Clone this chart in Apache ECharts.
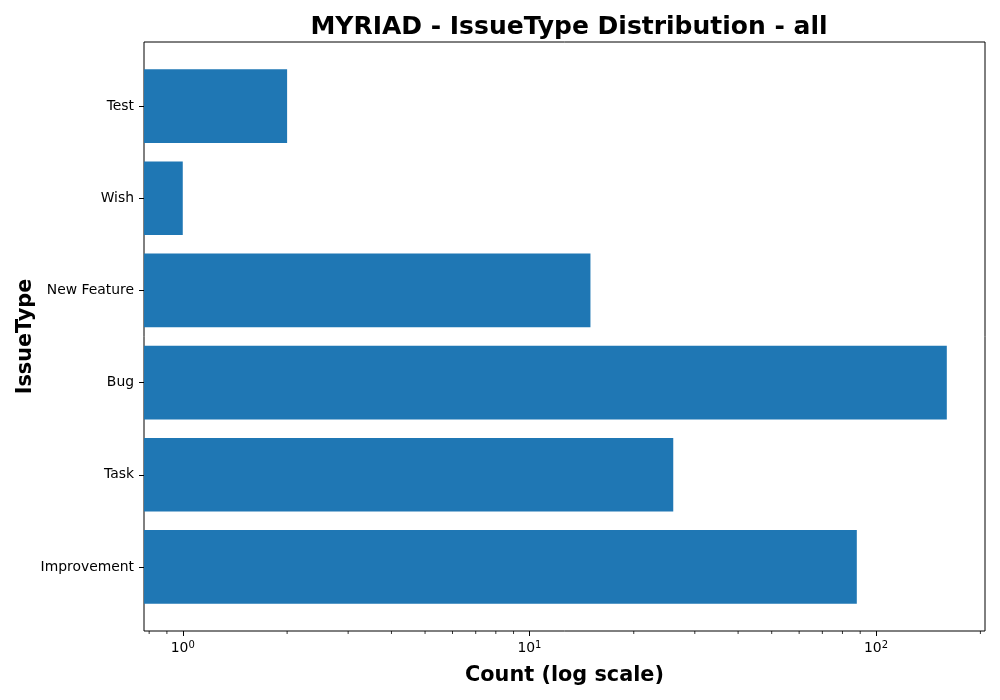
<!DOCTYPE html>
<html>
<head>
<meta charset="utf-8">
<script src="https://cdn.jsdelivr.net/npm/echarts@6/dist/echarts.min.js"></script>
<style>
  html, body { margin: 0; padding: 0; background: #fff; }
  #chart { width: 1000px; height: 700px; }
</style>
</head>
<body>
<div id="chart"></div>
<script>
var issueTypes = ['Improvement', 'Task', 'Bug', 'New Feature', 'Wish', 'Test'];
var counts = [88, 26, 160, 15, 1, 2];
var logMin = 0.773;
var logMax = 206.2;
var minorTicks = [0.8, 0.9, 2, 3, 4, 5, 6, 7, 8, 9, 20, 30, 40, 50, 60, 70, 80, 90, 200];

var FONT = 'DejaVu Sans';
var chart = echarts.init(document.getElementById('chart'));

function powLabel(v) {
    var e = Math.round(Math.log(v) / Math.LN10);
    return '{b|10}{s|' + e + '}';
}

// bars start at the left edge of the log axis, like matplotlib does
function renderBar(params, api) {
    var cat = api.value(1);
    var p0 = api.coord([logMin, cat]);
    var p1 = api.coord([api.value(0), cat]);
    var h = api.size([1, 1])[1] * 0.8;
    return {
        type: 'rect',
        shape: { x: p0[0], y: p0[1] - h / 2, width: p1[0] - p0[0], height: h },
        style: { fill: '#1f77b4' }
    };
}

// small log minor ticks under the frame
function renderMinor(params, api) {
    var p = api.coord([api.value(0), 0]);
    return {
        type: 'line',
        shape: { x1: p[0], y1: p[1], x2: p[0], y2: p[1] + 3 },
        style: { stroke: '#000', lineWidth: 0.8 }
    };
}

chart.setOption({
    animation: false,
    textStyle: { fontFamily: FONT },
    title: {
        text: 'MYRIAD - IssueType Distribution - all',
        left: 564, top: 10, textAlign: 'center',
        textStyle: { fontFamily: FONT, fontSize: 25, fontWeight: 'bold', color: '#000' }
    },
    grid: [
        // bars
        { left: 144, right: 15, top: 60, bottom: 87, show: false },
        // frame + x axis
        { left: 144, right: 15, top: 42, bottom: 69, show: true, borderColor: '#000', borderWidth: 1, backgroundColor: 'transparent' }
    ],
    xAxis: [
        { gridIndex: 0, type: 'log', min: logMin, max: logMax, show: false },
        {
            gridIndex: 1, type: 'log', min: logMin, max: logMax,
            name: 'Count (log scale)', nameLocation: 'middle', nameGap: 34, nameMoveOverlap: false,
            nameTextStyle: { fontFamily: FONT, fontSize: 20.8, fontWeight: 'bold', color: '#000' },
            axisLine: { show: false },
            axisTick: { show: true, length: 5, lineStyle: { color: '#000' } },
            splitLine: { show: false },
            axisLabel: {
                showMinLabel: false, showMaxLabel: false,
                margin: 9, color: '#000',
                formatter: powLabel,
                rich: {
                    b: { fontFamily: FONT, fontSize: 13.9, color: '#000' },
                    s: { fontFamily: FONT, fontSize: 10, color: '#000', verticalAlign: 'top', padding: [0, 0, 7, 0] }
                }
            }
        }
    ],
    yAxis: [
        {
            gridIndex: 0, type: 'category', data: issueTypes,
            name: 'IssueType', nameLocation: 'middle', nameGap: 108, nameRotate: 90, nameMoveOverlap: false,
            nameTextStyle: { fontFamily: FONT, fontSize: 20.8, fontWeight: 'bold', color: '#000' },
            axisLine: { show: false },
            axisTick: { show: true, alignWithLabel: true, length: 5, lineStyle: { color: '#000' } },
            axisLabel: { fontFamily: FONT, fontSize: 13.9, color: '#000', margin: 10 }
        },
        { gridIndex: 1, type: 'value', min: 0, max: 1, show: false }
    ],
    series: [{
        type: 'custom',
        xAxisIndex: 0, yAxisIndex: 0,
        renderItem: renderBar,
        encode: { x: 0, y: 1 },
        data: counts.map(function (c, i) { return [c, issueTypes[i]]; })
    }, {
        type: 'custom',
        xAxisIndex: 1, yAxisIndex: 1,
        renderItem: renderMinor,
        encode: { x: 0 },
        silent: true,
        clip: false,
        data: minorTicks.map(function (v) { return [v]; })
    }]
});
</script>
</body>
</html>
